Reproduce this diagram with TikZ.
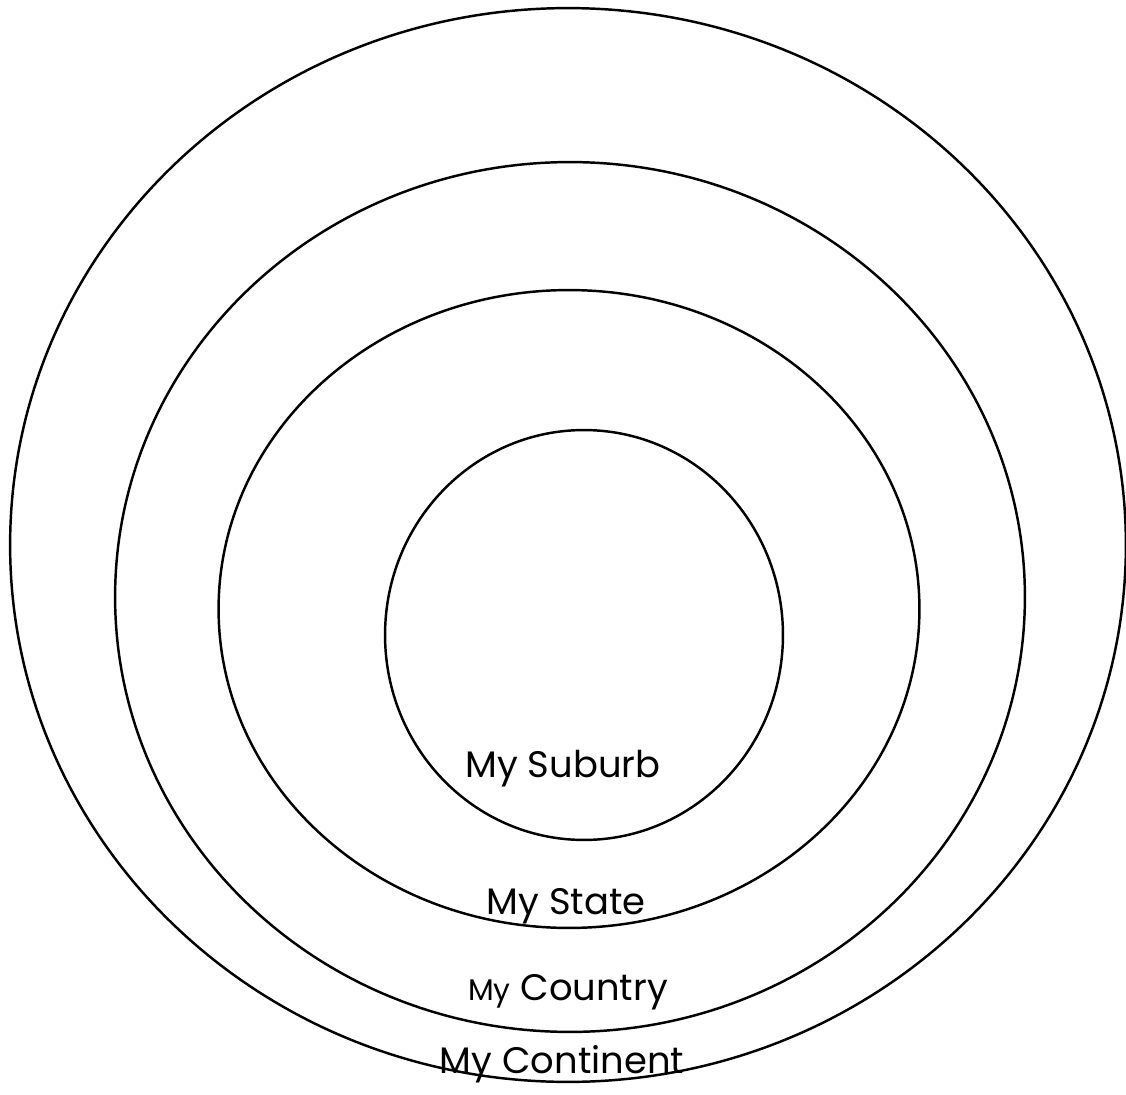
\documentclass[tikz,border=0pt]{standalone}
\usepackage{fontspec}
\setmainfont{Poppins}
\usetikzlibrary{shapes.geometric,positioning}

\tikzset{
  ring/.style={draw,ellipse,line width=1.4pt,inner sep=0pt},
  lbl/.style={anchor=base,font=\fontsize{21}{24}\selectfont}
}

\begin{document}
\begin{tikzpicture}[x=0.02cm,y=-0.02cm]
\useasboundingbox (0,0) rectangle (1126,1095);

\node[ring,minimum width=22.32cm,minimum height=21.48cm] (continent) at (568,545) {};
\node[ring,minimum width=18.2cm,minimum height=17.4cm] (country) at (570,597) {};
\node[ring,minimum width=14.02cm,minimum height=12.76cm] (state) at (569,609) {};
\node[ring,minimum width=7.96cm,minimum height=8.2cm] (suburb) at (584,635) {};

\node[lbl] (suburbtxt) at (563,777) {My Suburb};
\node[lbl] (statetxt) at (566,914) {My State};
\node[lbl] (countrytxt) at (568,1000) {{\fontsize{17}{20}\selectfont My} Country};
\node[lbl] (continenttxt) at (562,1073) {My Continent};
\end{tikzpicture}
\end{document}
